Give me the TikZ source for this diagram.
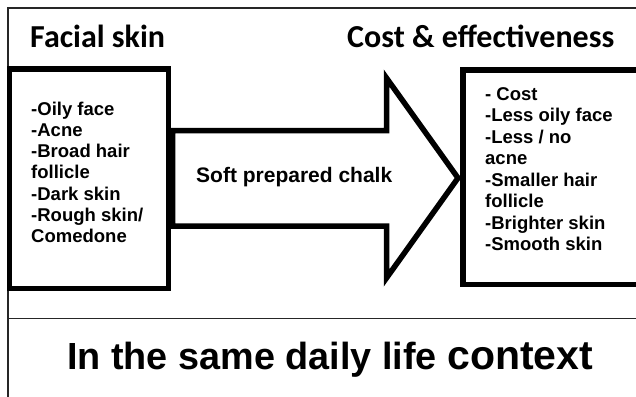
\documentclass[tikz,border=0pt]{standalone}
\usepackage{fontspec}
\setmainfont{Liberation Sans}
\newfontfamily\titlefont{Carlito}
\begin{document}
\begin{tikzpicture}[x=1pt,y=-1pt,
  frame/.style={line width=1.2pt, draw=black!85},
  thickbox/.style={line width=5.5pt, draw=black, line join=miter, rectangle, inner sep=0pt},
  title/.style={font=\titlefont\bfseries\fontsize{32}{38}\selectfont, anchor=base west, inner sep=0pt},
  item/.style={font=\bfseries\fontsize{18.5}{21}\selectfont, anchor=base west, inner sep=0pt},
]
\useasboundingbox (0,0) rectangle (636,396);
\clip (0,0) rectangle (636,396);
\fill[white] (0,0) rectangle (636,396);
% outer frame
\draw[frame] (8,8) rectangle (660,420);
\coordinate (divL) at (8,318.5);
\coordinate (divR) at (660,318.5);
\draw[frame] (divL) -- (divR);
% titles
\node[title] (t1) at (30,47.5) {Facial skin};
\node[title] (t2) at (347,47.5) {Cost \& effectiveness};
% boxes
\node[thickbox, minimum width=159pt, minimum height=219.5pt] (lbox) at (89,178.75) {};
\node[thickbox, minimum width=197pt, minimum height=214.5pt] (rbox) at (561.5,177.25) {};
% arrow
\draw[line width=5.5pt, line join=miter]
  (172.5,130.5) -- (386.5,130.5) -- (386.5,78) -- (458,178) -- (386.5,278)
  -- (386.5,226) -- (172.5,226) -- cycle;
\node[anchor=base west, inner sep=0pt, font=\bfseries\fontsize{21}{25}\selectfont] (soft) at (196,182) {Soft prepared chalk};
% lists
\foreach \t [count=\i] in {-Oily face,-Acne,-Broad hair,follicle,-Dark skin,-Rough skin/,Comedone}
  \node[item] (l\i) at (31,{115+21.3*(\i-1)}) {\t};
\foreach \t [count=\i] in {- Cost,-Less oily face,-Less / no,acne,-Smaller hair,follicle,-Brighter skin,-Smooth skin}
  \node[item] (r\i) at (485,{100+21.5*(\i-1)}) {\t};
% bottom
\node[anchor=base west, inner sep=0pt] (ctx) at (67,369.5) {\bfseries\fontsize{37.8}{45}\selectfont In the same daily life \fontsize{41}{48}\selectfont context};
\end{tikzpicture}
\end{document}
